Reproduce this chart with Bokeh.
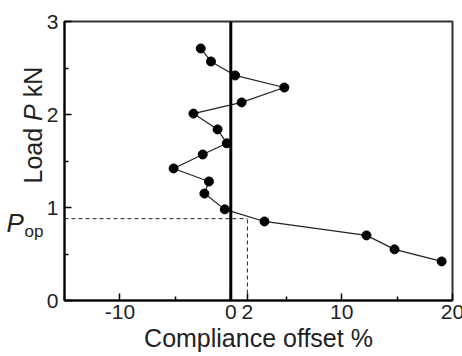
from bokeh.plotting import figure
from bokeh.layouts import row
from bokeh.models import FixedTicker, Span, Range1d, ColumnDataSource
from bokeh.core.properties import value
from bokeh.embed import file_html
from bokeh.resources import INLINE

# ---- data ----
offset = [-2.71, -1.79, 0.39, 4.83, 0.98, -3.37, -1.19, -0.36, -2.53, -5.16,
          -1.97, -2.38, -0.54, 3.04, 12.24, 14.77, 19.02]
load = [2.71, 2.57, 2.42, 2.29, 2.13, 2.01, 1.84, 1.69, 1.57, 1.42,
        1.28, 1.15, 0.98, 0.85, 0.70, 0.55, 0.42]
p_op = 0.88          # opening load, kN
offset_op = 1.5      # compliance offset at P_op, %
x_major = [-10, 0, 10, 20]
x_minor = [-15, -5, 5, 15]
y_major = [0, 1, 2, 3]
y_minor = [0.5, 1.5, 2.5]
x_lo, x_hi = -15, 20
y_lo, y_hi = 0, 3
x_title = "Compliance offset %"
y_title = ["Load", "P", "kN"]

FONT = "Liberation Sans"
INK = "#222222"
W_LEFT = 43

yr = Range1d(y_lo, y_hi)

p = figure(width=462 - W_LEFT, height=356, output_backend="svg", toolbar_location=None,
           x_range=Range1d(x_lo, x_hi), y_range=yr,
           min_border_left=61 - W_LEFT, min_border_right=10, min_border_top=21,
           min_border_bottom=56)
p.background_fill_color = "white"
p.border_fill_color = "white"
p.outline_line_color = "#333333"
p.outline_line_width = 2
p.xgrid.visible = False
p.ygrid.visible = False

for ax, maj, mnr in ((p.xaxis, x_major + [offset_op], x_minor), (p.yaxis, y_major, y_minor)):
    ax.ticker = FixedTicker(ticks=maj, minor_ticks=mnr)
    ax.axis_line_color = "black"
    ax.axis_line_width = 2
    ax.major_tick_in = 7
    ax.major_tick_out = 0
    ax.minor_tick_in = 4
    ax.minor_tick_out = 0
    ax.major_tick_line_width = 1.5
    ax.minor_tick_line_width = 1.5
    ax.major_tick_line_color = "black"
    ax.minor_tick_line_color = "black"
    ax.major_label_text_font = FONT
    ax.major_label_text_font_size = "21px"
    ax.major_label_text_color = INK
overrides = {t: str(t) for t in x_major if t < 0}
overrides[offset_op] = "2"
p.xaxis.major_label_overrides = overrides
p.xaxis.major_label_standoff = 4
p.yaxis.major_label_standoff = 6
p.xaxis.axis_label = x_title
p.xaxis.axis_label_text_font = FONT
p.xaxis.axis_label_text_font_size = "25px"
p.xaxis.axis_label_text_font_style = "normal"
p.xaxis.axis_label_text_color = INK
p.xaxis.axis_label_standoff = 2

# zero line
p.add_layout(Span(location=0, dimension="height", line_color="black", line_width=3))

# dashed guide lines to P_op
p.line([x_lo, offset_op], [p_op, p_op], line_dash="4 3", line_color=INK, line_width=1)
p.line([offset_op, offset_op], [y_lo, p_op], line_dash="4 3", line_color=INK, line_width=1)

src = ColumnDataSource(dict(x=offset, y=load))
p.line("x", "y", source=src, line_color=INK, line_width=1.2)
p.scatter("x", "y", source=src, size=9, color="black")

# ---- left strip: y title and P_op label, sharing the y scale ----
q = figure(width=W_LEFT, height=356, output_backend="svg", toolbar_location=None,
           x_range=Range1d(0, W_LEFT), y_range=yr, x_axis_type=None, y_axis_type=None,
           min_border_left=0, min_border_right=0, min_border_top=21, min_border_bottom=56)
q.outline_line_color = None
q.xgrid.visible = False
q.ygrid.visible = False
q.background_fill_color = "white"
q.border_fill_color = "white"

# rotated title pieces (y positions along the axis, in load units)
title_y = [1.258, 1.931, 2.185]
styles = ["normal", "italic", "normal"]
for t, yy, st in zip(y_title, title_y, styles):
    q.text(x=[32], y=[yy], text=[t], angle=1.5707963, text_font=value(FONT),
           text_font_size="25px", text_font_style=st, text_align="left",
           text_baseline="alphabetic", text_color=INK)

q.text(x=[6], y=[p_op - 0.052], text=["P"], text_font=value(FONT),
       text_font_size="26px", text_font_style="italic", text_align="left",
       text_baseline="alphabetic", text_color=INK)
q.text(x=[24], y=[p_op - 0.138], text=["op"], text_font=value(FONT),
       text_font_size="17px", text_align="left",
       text_baseline="alphabetic", text_color=INK)

layout = row(q, p)
open("out.html", "w").write(file_html(layout, INLINE))
